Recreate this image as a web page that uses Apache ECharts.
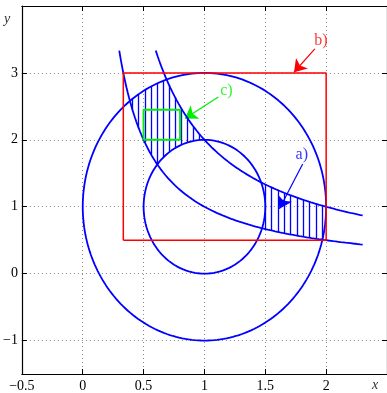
<!DOCTYPE html>
<html><head><meta charset="utf-8">
<script src="https://cdn.jsdelivr.net/npm/echarts@6/dist/echarts.min.js"></script>
<style>html,body{margin:0;padding:0;background:#fff}#c{width:387px;height:393px}</style>
</head><body><div id="c"></div>
<script>
// ---- data ----
const hyperbolaK = [1, 2];                 // y = k / x
const hyperbolaXFrom = [0.3, 0.6];
const hyperbolaXTo = [2.3, 2.3];
const ellipseCenter = [1, 1];
const bigEllipseRadii = [1, 2];
const smallEllipseRadii = [0.5, 1];
const redRectX = [1/3, 2, 2, 1/3, 1/3];
const redRectY = [0.5, 0.5, 3, 3, 0.5];
const greenRectX = [0.5, 0.8, 0.8, 0.5, 0.5];
const greenRectY = [2, 2, 2.45, 2.45, 2];
const hatchAX = [1.5, 1.552, 1.604, 1.656, 1.708, 1.76, 1.812, 1.864, 1.916, 1.968];
const hatchCX = [0.41, 0.46, 0.51, 0.56, 0.61, 0.66, 0.71, 0.76, 0.81, 0.86, 0.91, 0.96];
const noteText = ['a)', 'b)', 'c)'];
const noteTextX = [1.80, 1.956, 1.18];
const noteTextY = [1.77, 3.48, 2.74];
const arrowFromX = [1.807, 1.907, 1.114];
const arrowFromY = [1.64, 3.36, 2.64];
const arrowToX = [1.616, 1.736, 0.84];
const arrowToY = [0.97, 3.01, 2.32];
const noteColors = ['#0000ff', '#ff0000', '#00ee00'];

// ---- curves ----
function hyper(k, a, b) { const p = []; const n = 200; for (let i = 0; i <= n; i++) { const x = a + (b - a) * i / n; p.push([x, k / x]); } return p; }
function ellipse(c, r) { const p = []; const n = 240; for (let i = 0; i <= n; i++) { const t = 2 * Math.PI * i / n; p.push([c[0] + r[0] * Math.cos(t), c[1] + r[1] * Math.sin(t)]); } return p; }
function eUp(c, r, x) { const u = (x - c[0]) / r[0]; return Math.abs(u) > 1 ? null : c[1] + r[1] * Math.sqrt(1 - u * u); }
function eLo(c, r, x) { const u = (x - c[0]) / r[0]; return Math.abs(u) > 1 ? null : c[1] - r[1] * Math.sqrt(1 - u * u); }

const hatchSegs = [];
hatchAX.forEach(x => {
  const lo = Math.max(hyperbolaK[0] / x, eLo(ellipseCenter, bigEllipseRadii, x));
  const hi = hyperbolaK[1] / x;
  hatchSegs.push({ coords: [[x, lo], [x, hi]] });
});
hatchCX.forEach(x => {
  const su = eUp(ellipseCenter, smallEllipseRadii, x);
  const lo = Math.max(hyperbolaK[0] / x, su === null ? -Infinity : su);
  const hi = Math.min(hyperbolaK[1] / x, eUp(ellipseCenter, bigEllipseRadii, x));
  hatchSegs.push({ coords: [[x, lo], [x, hi]] });
});

const blue = '#0000ff';
const serif = '"Liberation Serif", "DejaVu Serif", serif';
const fmt = v => (v < 0 ? '\u2212' + String(-v) : String(v));

const series = [];
hyperbolaK.forEach((k, i) => series.push({ type: 'line', data: hyper(k, hyperbolaXFrom[i], hyperbolaXTo[i]), showSymbol: false, lineStyle: { color: blue, width: 1.8 }, silent: true }));
series.push({ type: 'line', data: ellipse(ellipseCenter, bigEllipseRadii), showSymbol: false, lineStyle: { color: blue, width: 1.8 }, silent: true });
series.push({ type: 'line', data: ellipse(ellipseCenter, smallEllipseRadii), showSymbol: false, lineStyle: { color: blue, width: 1.8 }, silent: true });
series.push({ type: 'lines', coordinateSystem: 'cartesian2d', data: hatchSegs, lineStyle: { color: blue, width: 1.3, opacity: 1 }, silent: true });
series.push({ type: 'line', data: redRectX.map((x, i) => [x, redRectY[i]]), showSymbol: false, lineStyle: { color: '#ff0000', width: 1.5 }, silent: true });
series.push({ type: 'line', data: greenRectX.map((x, i) => [x, greenRectY[i]]), showSymbol: false, lineStyle: { color: '#00ee00', width: 2 }, silent: true });
noteText.forEach((t, i) => {
  series.push({ type: 'lines', coordinateSystem: 'cartesian2d', symbol: ['none', 'arrow'], symbolSize: [8, 12],
    data: [{ coords: [[arrowFromX[i], arrowFromY[i]], [arrowToX[i], arrowToY[i]]] }],
    lineStyle: { color: noteColors[i], width: 1.2, opacity: 1 }, silent: true });
  series.push({ type: 'scatter', data: [[noteTextX[i], noteTextY[i]]], symbolSize: 1, itemStyle: { color: 'rgba(0,0,0,0)' }, silent: true,
    label: { show: true, position: 'inside', formatter: t, color: noteColors[i], fontFamily: serif, fontSize: 16 } });
});

const chart = echarts.init(document.getElementById('c'), null, { renderer: 'canvas' });
const gridLine = { show: true, lineStyle: { color: '#888', type: [1, 3], width: 1 } };
chart.setOption({
  animation: false,
  grid: { left: 19, top: 6, right: 0, bottom: 17 },
  xAxis: [
    { type: 'value', min: -0.5, max: 2.5, interval: 0.5, position: 'bottom',
      axisLine: { show: true, onZero: false, lineStyle: { color: '#000', width: 1.2 } },
      axisTick: { show: true, inside: true, length: 5, lineStyle: { color: '#000' } },
      axisLabel: { formatter: fmt, showMaxLabel: false, color: '#000', fontFamily: serif, fontSize: 14, margin: 5 },
      splitLine: gridLine },
    { type: 'value', min: -0.5, max: 2.5, interval: 0.5, position: 'top',
      axisLine: { show: true, onZero: false, lineStyle: { color: '#000', width: 1.2 } },
      axisTick: { show: true, inside: true, length: 5, lineStyle: { color: '#000' } },
      axisLabel: { show: false }, splitLine: { show: false } }
  ],
  yAxis: [
    { type: 'value', min: -1.5, max: 4, minInterval: 1, maxInterval: 1, position: 'left',
      axisLine: { show: true, onZero: false, lineStyle: { color: '#000', width: 1.2 } },
      axisTick: { show: true, inside: true, length: 5, lineStyle: { color: '#000' } },
      axisLabel: { formatter: fmt, showMinLabel: false, showMaxLabel: false, color: '#000', fontFamily: serif, fontSize: 14, margin: 4 },
      splitLine: gridLine },
    { type: 'value', min: -1.5, max: 4, minInterval: 1, maxInterval: 1, position: 'right',
      axisLine: { show: true, onZero: false, lineStyle: { color: '#000', width: 1.2 } },
      axisTick: { show: true, inside: true, length: 5, lineStyle: { color: '#000' } },
      axisLabel: { show: false }, splitLine: { show: false } }
  ],
  graphic: [
    { type: 'text', left: 4, top: 12, style: { text: 'y', font: 'italic 14px ' + serif, fill: '#333' } },
    { type: 'text', left: 372, top: 378, style: { text: 'x', font: 'italic 14px ' + serif, fill: '#333' } }
  ],
  series: series
});
</script>
</body></html>
